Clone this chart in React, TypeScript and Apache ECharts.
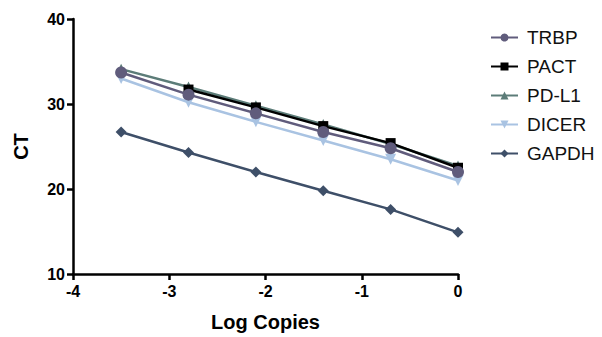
import React, { useEffect, useRef } from "react";
import * as echarts from "echarts";

const logCopies = [-3.5, -2.8, -2.1, -1.4, -0.7, 0];
const trbp = [33.7, 31.1, 28.9, 26.7, 24.8, 22.0];
const pact = [null, 31.7, 29.6, 27.4, 25.4, 22.5];
const pdl1 = [34.1, 32.0, 29.8, 27.6, 25.3, 22.7];
const dicer = [33.0, 30.2, 27.9, 25.7, 23.5, 21.0];
const gapdh = [26.7, 24.3, 22.0, 19.8, 17.6, 14.9];

const xTicks = [-4, -3, -2, -1, 0];
const yTicks = [10, 20, 30, 40];

const FONT = "'Liberation Sans', Arial, sans-serif";

const pair = (ys: (number | null)[]) => logCopies.map((x, i) => [x, ys[i]]);

export default function App() {
  const ref = useRef<HTMLDivElement>(null);
  useEffect(() => {
    if (!ref.current) return;
    const chart = echarts.init(ref.current, undefined, { renderer: "svg" });
    const mk = (name: string, data: (number | null)[], color: string, symbol: string, size: number, z: number) => ({
      name,
      type: "line",
      data: pair(data),
      color,
      symbol,
      symbolSize: size,
      z,
      lineStyle: { color, width: 2.5 },
      itemStyle: { color },
      connectNulls: false,
    });
    chart.setOption({
      animation: false,
      backgroundColor: "#ffffff",
      textStyle: { fontFamily: FONT },
      grid: { left: 73, right: 144, top: 19, bottom: 61, containLabel: false },
      legend: {
        orient: "vertical",
        left: 485,
        top: 23,
        itemWidth: 27,
        itemHeight: 10,
        itemGap: 10,
        textStyle: { fontSize: 19, color: "#111", fontFamily: FONT, padding: [0, 0, 0, 4] },
        data: ["TRBP", "PACT", "PD-L1", "DICER", "GAPDH"],
      },
      xAxis: {
        type: "value",
        min: -4,
        max: 0,
        interval: 1,
        name: "Log Copies",
        nameLocation: "middle",
        nameGap: 38,
        nameTextStyle: { fontSize: 20, fontWeight: "bold", color: "#000", fontFamily: FONT },
        axisLine: { onZero: false, lineStyle: { color: "#000", width: 2.5 } },
        axisTick: { show: true, length: 6, lineStyle: { color: "#000", width: 2.5 } },
        axisLabel: {
          fontSize: 16,
          fontWeight: "bold",
          color: "#000",
          margin: 9,
          fontFamily: FONT,
          customValues: xTicks,
        },
        splitLine: { show: false },
      },
      yAxis: {
        type: "value",
        min: 10,
        max: 40,
        interval: 10,
        name: "CT",
        nameLocation: "middle",
        nameGap: 42,
        nameTextStyle: { fontSize: 20, fontWeight: "bold", color: "#000", fontFamily: FONT },
        axisLine: { show: true, onZero: false, lineStyle: { color: "#000", width: 2.5 } },
        axisTick: { show: true, length: 6, lineStyle: { color: "#000", width: 2.5 } },
        axisLabel: {
          fontSize: 16,
          fontWeight: "bold",
          color: "#000",
          margin: 8,
          fontFamily: FONT,
          customValues: yTicks,
        },
        splitLine: { show: false },
      },
      series: [
        mk("TRBP", trbp, "#605c7c", "circle", 12, 6),
        mk("PACT", pact, "#000000", "rect", 10, 5),
        mk("PD-L1", pdl1, "#5c7c78", "triangle", 11, 4),
        mk("DICER", dicer, "#a9c3e2", "path://M0,0 L10,0 L5,9 Z", 11, 3),
        mk("GAPDH", gapdh, "#3e4f68", "diamond", 11, 2),
      ],
    });
    return () => chart.dispose();
  }, []);
  return <div ref={ref} style={{ width: 602, height: 337, marginLeft: -8, marginTop: -8 }} />;
}
